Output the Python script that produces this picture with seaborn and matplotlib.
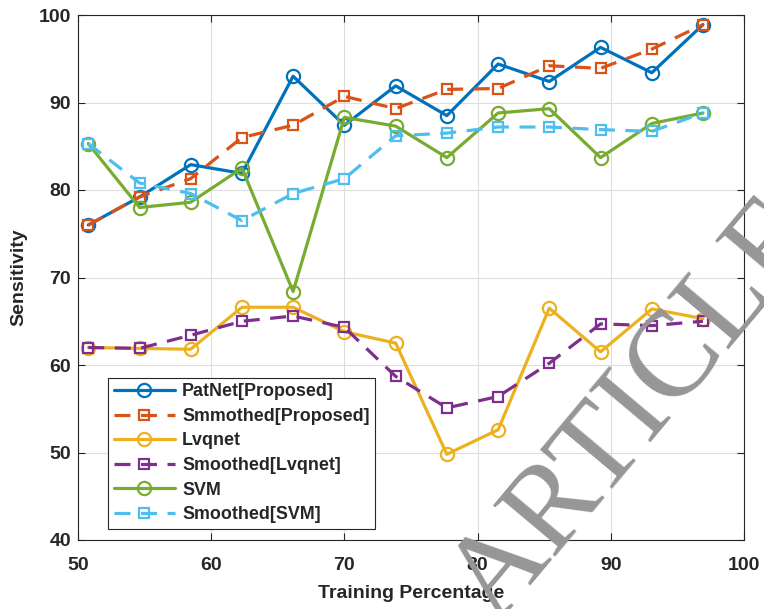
import matplotlib
matplotlib.use("Agg")
import matplotlib.pyplot as plt
import seaborn as sns
import pandas as pd

# ---- data ----
x_train = [50.77, 54.62, 58.46, 62.31, 66.15, 70.00, 73.85, 77.69, 81.54, 85.38, 89.23, 93.08, 96.92]
patnet = [76.0, 79.2, 82.9, 81.9, 93.0, 87.4, 91.9, 88.5, 94.4, 92.4, 96.3, 93.4, 98.9]
smoothed_proposed = [76.0, 79.2, 81.3, 86.0, 87.4, 90.7, 89.3, 91.5, 91.6, 94.2, 93.9, 96.1, 98.9]
lvqnet = [62.0, 61.9, 61.8, 66.6, 66.6, 63.8, 62.5, 49.8, 52.6, 66.5, 61.5, 66.4, 65.3]
smoothed_lvqnet = [62.0, 61.9, 63.4, 65.0, 65.6, 64.3, 58.7, 55.1, 56.4, 60.2, 64.7, 64.5, 65.0]
svm = [85.3, 78.0, 78.6, 82.5, 68.4, 88.3, 87.3, 83.7, 88.8, 89.3, 83.7, 87.6, 88.8]
smoothed_svm = [85.3, 80.8, 79.6, 76.5, 79.6, 81.3, 86.2, 86.5, 87.2, 87.2, 86.9, 86.7, 88.8]

series_names = ["PatNet[Proposed]", "Smmothed[Proposed]", "Lvqnet",
                "Smoothed[Lvqnet]", "SVM", "Smoothed[SVM]"]
series_values = [patnet, smoothed_proposed, lvqnet, smoothed_lvqnet, svm, smoothed_svm]
x_ticks = [50, 60, 70, 80, 90, 100]
y_ticks = [40, 50, 60, 70, 80, 90, 100]

colors = ["#0072BD", "#D95319", "#EDB120", "#7E2F8E", "#77AC30", "#4DBEEE"]
styles = ["-", (0, (5, 3.3)), "-", (0, (5, 3.3)), "-", (0, (5, 3.3))]
markers = ["o", "s", "o", "s", "o", "s"]
msizes = [9.5, 7.5, 9.5, 7.5, 9.5, 7.5]

sns.set_style("ticks")
plt.rcParams["font.family"] = ["Liberation Sans", "DejaVu Sans"]
plt.rcParams["font.weight"] = "bold"

fig = plt.figure(figsize=(7.64, 6.09), dpi=100)
ax = fig.add_axes([78 / 764, 1 - 540 / 609, 666 / 764, 525 / 609])

for name, vals, c, ls, m, ms in zip(series_names, series_values, colors, styles, markers, msizes):
    df = pd.DataFrame({"x": x_train, "y": vals})
    sns.lineplot(data=df, x="x", y="y", ax=ax, color=c, linestyle=ls, linewidth=2.3,
                 marker=m, markersize=ms, markerfacecolor="none",
                 markeredgecolor=c, markeredgewidth=1.6, label=name, errorbar=None)

ax.set_xlim(50, 100)
ax.set_ylim(40, 100)
ax.set_xticks(x_ticks)
ax.set_yticks(y_ticks)
ax.grid(True, color="#dedede", linewidth=0.8)
ax.set_axisbelow(True)
for s in ax.spines.values():
    s.set_visible(True)
    s.set_color("#262626")
    s.set_linewidth(0.8)
ax.tick_params(axis="both", direction="in", length=5, width=0.8, color="#262626",
               labelsize=14, top=True, right=True, labelcolor="#262626")
ax.tick_params(axis="x", pad=12)
ax.tick_params(axis="y", pad=5)
for lab in ax.get_xticklabels() + ax.get_yticklabels():
    lab.set_fontweight("bold")

ax.set_xlabel("Training Percentage", fontsize=14, fontweight="bold", color="#262626", labelpad=8)
ax.set_ylabel("Sensitivity", fontsize=14, fontweight="bold", color="#262626", labelpad=8)

leg = ax.legend(loc="lower left", bbox_to_anchor=(0.045, 0.021), borderaxespad=0,
                prop={"size": 12.9, "weight": "bold"}, frameon=True, fancybox=False,
                handlelength=3.4, handletextpad=0.4, labelspacing=0.42,
                borderpad=0.33, edgecolor="#262626", framealpha=1)
leg.get_frame().set_linewidth(0.8)

# watermark
fig.text(637 / 764, 1 - 411 / 609, "ARTICLE", fontsize=88, color="#969696",
         family="Liberation Serif", fontweight="normal", rotation=50,
         ha="center", va="center", zorder=100)

fig.savefig("out.png", dpi=100)
